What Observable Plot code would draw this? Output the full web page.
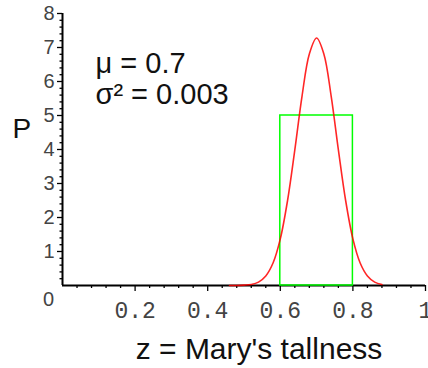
<!DOCTYPE html>
<html>
<head>
<meta charset="utf-8">
<script src="https://cdn.jsdelivr.net/npm/d3@7"></script>
<script src="https://cdn.jsdelivr.net/npm/@observablehq/plot@0.6"></script>
<style>
  html, body { margin: 0; padding: 0; background: #fff; }
  #chart svg { display: block; overflow: visible; }
</style>
</head>
<body>
<div id="chart"></div>
<script>
// Curve values (z, P)
const zValues = [0.46, 0.48, 0.50, 0.52, 0.54, 0.56, 0.58, 0.60, 0.62, 0.64, 0.66, 0.68, 0.70,
                 0.72, 0.74, 0.76, 0.78, 0.80, 0.82, 0.84, 0.86, 0.88];
const pValues = [0.0, 0.0, 0.01, 0.03, 0.10, 0.28, 0.66, 1.37, 2.50, 3.99, 5.58, 6.81, 7.28,
                 6.81, 5.58, 3.99, 2.50, 1.37, 0.66, 0.28, 0.10, 0.03];
// Uniform box
const boxLeft = [0.6];
const boxRight = [0.8];
const boxHeight = [5];
// Ticks
const xMajorTicks = [0.2, 0.4, 0.6, 0.8, 1.0];
const xTickLabels = ["0.2", "0.4", "0.6", "0.8", "1"];
const xMinorTicks = [0.04,0.08,0.12,0.16,0.24,0.28,0.32,0.36,0.44,0.48,0.52,0.56,0.64,0.68,0.72,0.76,0.84,0.88,0.92,0.96];
const yMajorTicks = [1, 2, 3, 4, 5, 6, 7, 8];
const yMinorTicks = [];
for (const v of [0,1,2,3,4,5,6,7]) for (const f of [0.2,0.4,0.6,0.8]) yMinorTicks.push(+(v+f).toFixed(1));
const annotations = ["μ = 0.7", "σ² = 0.003"];

const curve = zValues.map((z, i) => ({z, p: pValues[i]}));
const box = boxLeft.map((l, i) => ({x1: l, x2: boxRight[i], y1: 0, y2: boxHeight[i]}));

const sans = "'Liberation Sans', Arial, sans-serif";
const mono = "'Liberation Mono', 'Courier New', monospace";

const chart = Plot.plot({
  width: 428,
  height: 368,
  marginLeft: 62,
  marginRight: 3,
  marginTop: 13,
  marginBottom: 83,
  style: {background: "#fff", overflow: "visible"},
  x: {domain: [0, 1], axis: null},
  y: {domain: [0, 8], axis: null},
  marks: [
    // minor ticks
    Plot.axisX({ticks: xMinorTicks, tickSize: 3, text: null, stroke: "#000", strokeWidth: 1.3}),
    Plot.axisY({ticks: yMinorTicks, tickSize: 2.5, text: null, stroke: "#000", strokeWidth: 1.3}),
    // major ticks with labels
    Plot.axisX({ticks: xMajorTicks, tickSize: 6, tickPadding: 10, stroke: "#000", strokeWidth: 1.3,
      fill: "#444", fontSize: 23, fontFamily: mono, tickFormat: (d, i) => xTickLabels[i]}),
    Plot.axisY({ticks: yMajorTicks, tickSize: 5, tickPadding: 3, stroke: "#000", strokeWidth: 1.3,
      fill: "#444", fontSize: 20, fontFamily: sans, tickFormat: d => String(d)}),
    Plot.text([0], {x: d => d, y: d => d, text: d => String(d), dx: -14, dy: 14,
      fontSize: 20, fontFamily: sans, fill: "#444"}),
    // axis lines
    Plot.ruleX([0], {stroke: "#000", strokeWidth: 2}),
    Plot.ruleY([0], {stroke: "#000", strokeWidth: 2}),
    // uniform box
    Plot.rect(box, {x1: "x1", x2: "x2", y1: "y1", y2: "y2", fill: "none", stroke: "#00ff00", strokeWidth: 1.5}),
    // normal curve
    Plot.line(curve, {x: "z", y: "p", stroke: "#ff0000", strokeWidth: 1.6, curve: "catmull-rom", strokeOpacity: 0.85}),
    // labels
    Plot.text(["P"], {frameAnchor: "left", dx: -50, dy: -20, textAnchor: "start", fontSize: 28, fontFamily: sans, fill: "#111"}),
    Plot.text(["z = Mary's tallness"], {frameAnchor: "bottom", dx: 15, dy: 73, lineAnchor: "bottom",
      fontSize: 30, fontFamily: sans, fill: "#111"}),
    Plot.text([annotations[0]], {frameAnchor: "top-left", dx: 33, dy: 59, lineAnchor: "bottom",
      textAnchor: "start", fontSize: 29, fontFamily: sans, fill: "#111"}),
    Plot.text([annotations[1]], {frameAnchor: "top-left", dx: 33, dy: 90, lineAnchor: "bottom",
      textAnchor: "start", fontSize: 29, fontFamily: sans, fill: "#111"})
  ]
});
document.getElementById("chart").appendChild(chart);
</script>
</body>
</html>
